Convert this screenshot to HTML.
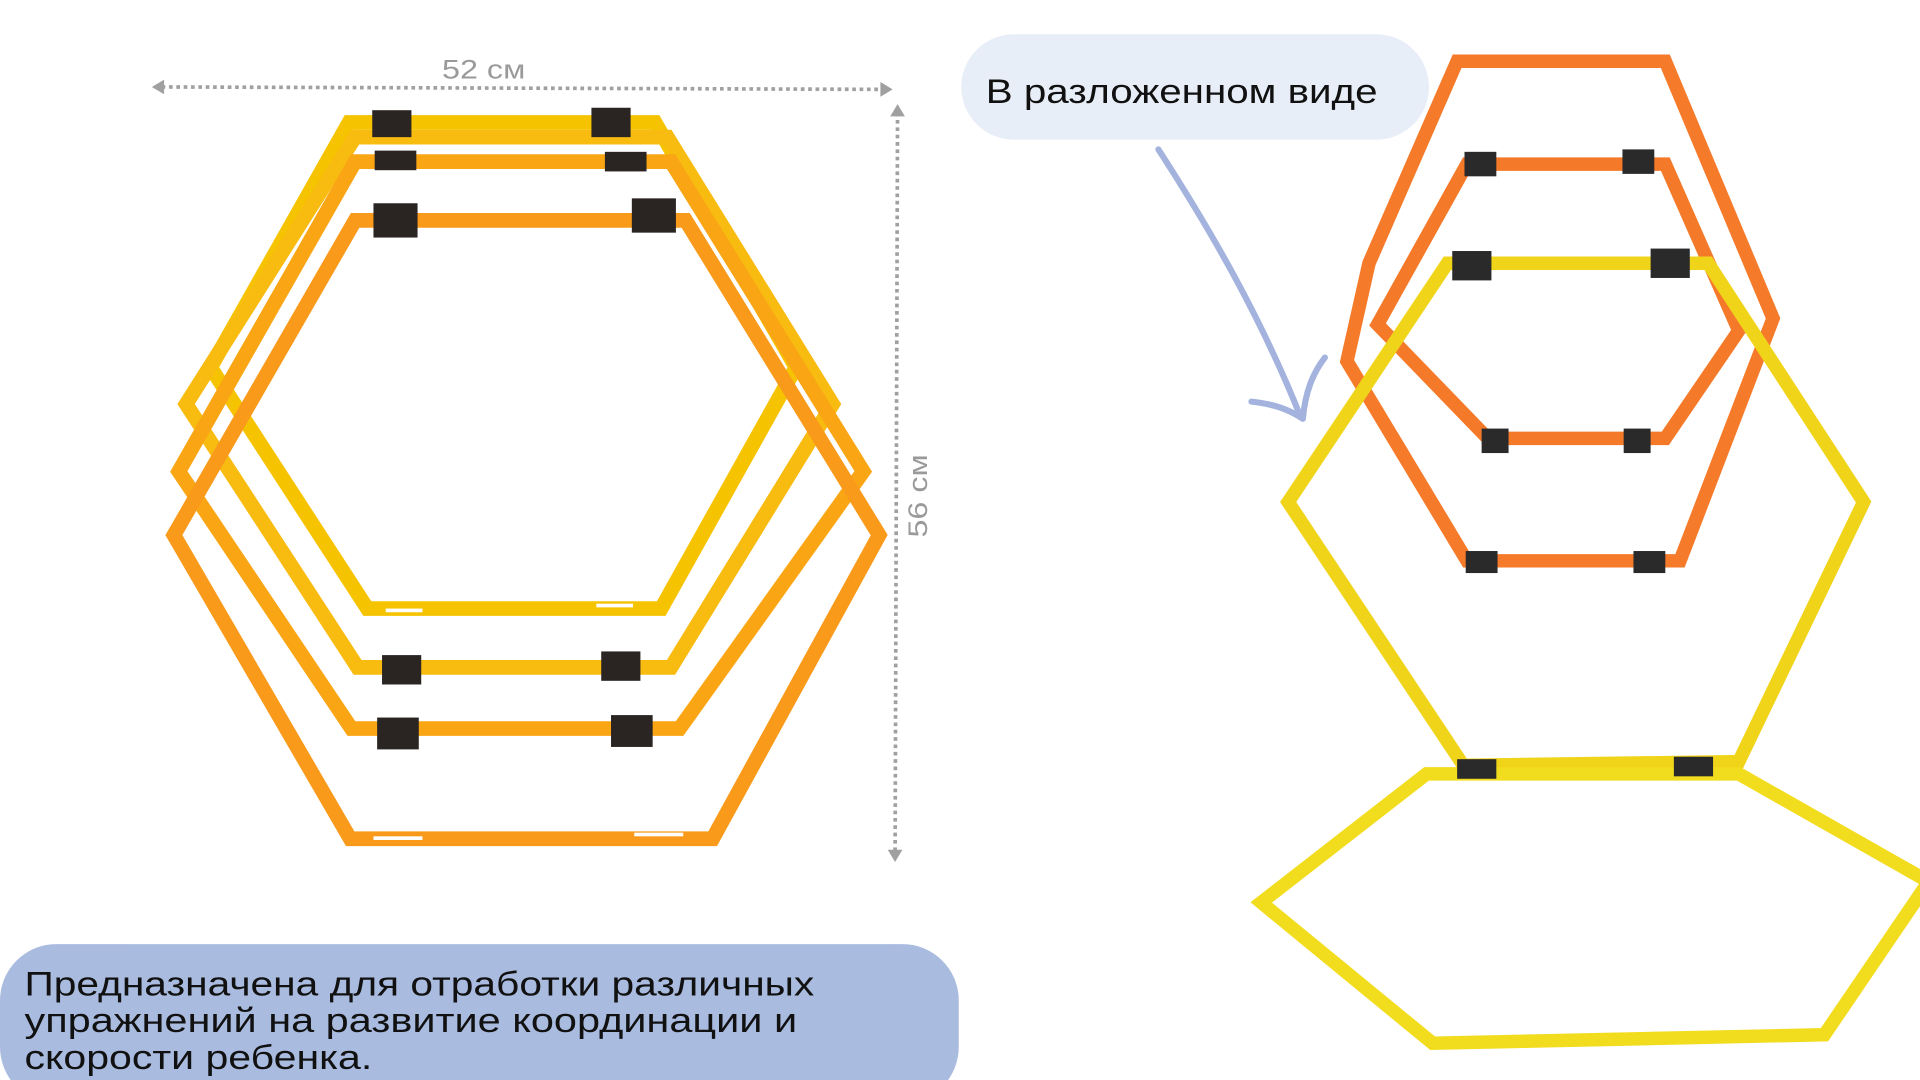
<!DOCTYPE html>
<html><head><meta charset="utf-8"><style>
html,body{margin:0;padding:0;background:#fff;width:1920px;height:1080px;overflow:hidden}
svg{display:block}
</style></head><body>
<svg width="1920" height="1080" viewBox="0 0 1568 882" xmlns="http://www.w3.org/2000/svg" font-family="Liberation Sans, sans-serif">
<rect width="1568" height="882" fill="#fff"/>
<!-- dimensions -->
<line x1="132" y1="71" x2="722" y2="73" stroke="#a0a0a0" stroke-width="3" stroke-dasharray="3,3"/>
<path d="M124 71 L134 65 L134 77 Z" fill="#a0a0a0"/>
<path d="M729 73 L719 67 L719 79 Z" fill="#a0a0a0"/>
<text x="395" y="64" font-size="22" fill="#9a9a9a" text-anchor="middle" textLength="68" lengthAdjust="spacingAndGlyphs">52 см</text>
<line x1="733" y1="92" x2="731" y2="697" stroke="#a0a0a0" stroke-width="3" stroke-dasharray="3,3"/>
<path d="M733 85 L727 95 L739 95 Z" fill="#a0a0a0"/>
<path d="M731 704 L725 694 L737 694 Z" fill="#a0a0a0"/>
<text transform="translate(757,405) rotate(-90)" font-size="22" fill="#9a9a9a" text-anchor="middle" textLength="68" lengthAdjust="spacingAndGlyphs">56 см</text>
<!-- left hexes -->
<g fill="none" stroke-linejoin="miter" stroke-width="12">
<polygon points="285,100 535,100 650,300 540,497 300,497 172,300" stroke="#f6c300"/>
<polygon points="290,112 545,112 680,330 548,545 292,545 152,330" stroke="#f8bb10"/>
<polygon points="290,132 548,132 705,385 555,595 287,595 146,385" stroke="#f9a514"/>
<polygon points="290,180 560,180 718,437 582,685 286,685 142,437" stroke="#f99a1a"/>
</g>
<g fill="#fff">
<rect x="315" y="497" width="30" height="3"/><rect x="487" y="493" width="30" height="3"/>
<rect x="305" y="683" width="40" height="3"/><rect x="518" y="680" width="40" height="3"/>
</g>
<g fill="#2a2422">
<rect x="304" y="90" width="32" height="22"/><rect x="483" y="88" width="32" height="24"/>
<rect x="306" y="123" width="34" height="16"/><rect x="494" y="124" width="34" height="16"/>
<rect x="305" y="166" width="36" height="28"/><rect x="516" y="162" width="36" height="28"/>
<rect x="312" y="535" width="32" height="24"/><rect x="491" y="532" width="32" height="24"/>
<rect x="308" y="586" width="34" height="26"/><rect x="499" y="584" width="34" height="26"/>
</g>
<!-- bottom pill -->
<rect x="0" y="771" width="783" height="130" rx="46" fill="#a9bbdf"/>
<g font-size="28" fill="#111">
<text x="20" y="813" textLength="645" lengthAdjust="spacingAndGlyphs">Предназначена для отработки различных</text>
<text x="20" y="843" textLength="631" lengthAdjust="spacingAndGlyphs">упражнений на развитие координации и</text>
<text x="20" y="873" textLength="284" lengthAdjust="spacingAndGlyphs">скорости ребенка.</text>
</g>
<!-- top-right bubble -->
<rect x="785" y="28" width="382" height="86" rx="43" fill="#e8eef7"/>
<text x="805" y="84" font-size="28" fill="#111" textLength="320" lengthAdjust="spacingAndGlyphs">В разложенном виде</text>
<!-- arrow -->
<path d="M946 122 C 990 190, 1030 260, 1062 340" fill="none" stroke="#a3b3de" stroke-width="5" stroke-linecap="round"/>
<path d="M1022 328 C 1040 330, 1052 334, 1064 342 M1064 342 C 1066 320, 1072 305, 1082 292" fill="none" stroke="#a3b3de" stroke-width="5" stroke-linecap="round"/>
<!-- right hexes -->
<g fill="none" stroke-width="11">
<polygon points="1190,50 1360,50 1448,260 1372,458 1198,458 1100,295 1118,215" stroke="#f57a2a"/>
<polygon points="1198,134 1360,134 1420,270 1360,358 1215,358 1125,265" stroke="#f47a2a"/>
<polygon points="1182,215 1395,215 1522,410 1420,622 1195,625 1052,410" stroke="#f0d41a"/>
<polygon points="1165,632 1420,632 1575,720 1490,845 1170,852 1030,737" stroke="#f2dc1e"/>
</g>
<g fill="#2a2a2a">
<rect x="1186" y="205" width="32" height="24"/><rect x="1348" y="203" width="32" height="24"/>
<rect x="1196" y="124" width="26" height="20"/><rect x="1325" y="122" width="26" height="20"/>
<rect x="1210" y="350" width="22" height="20"/><rect x="1326" y="350" width="22" height="20"/>
<rect x="1197" y="450" width="26" height="18"/><rect x="1334" y="450" width="26" height="18"/>
<rect x="1190" y="620" width="32" height="16"/><rect x="1367" y="618" width="32" height="16"/>
</g>
</svg>
</body></html>
